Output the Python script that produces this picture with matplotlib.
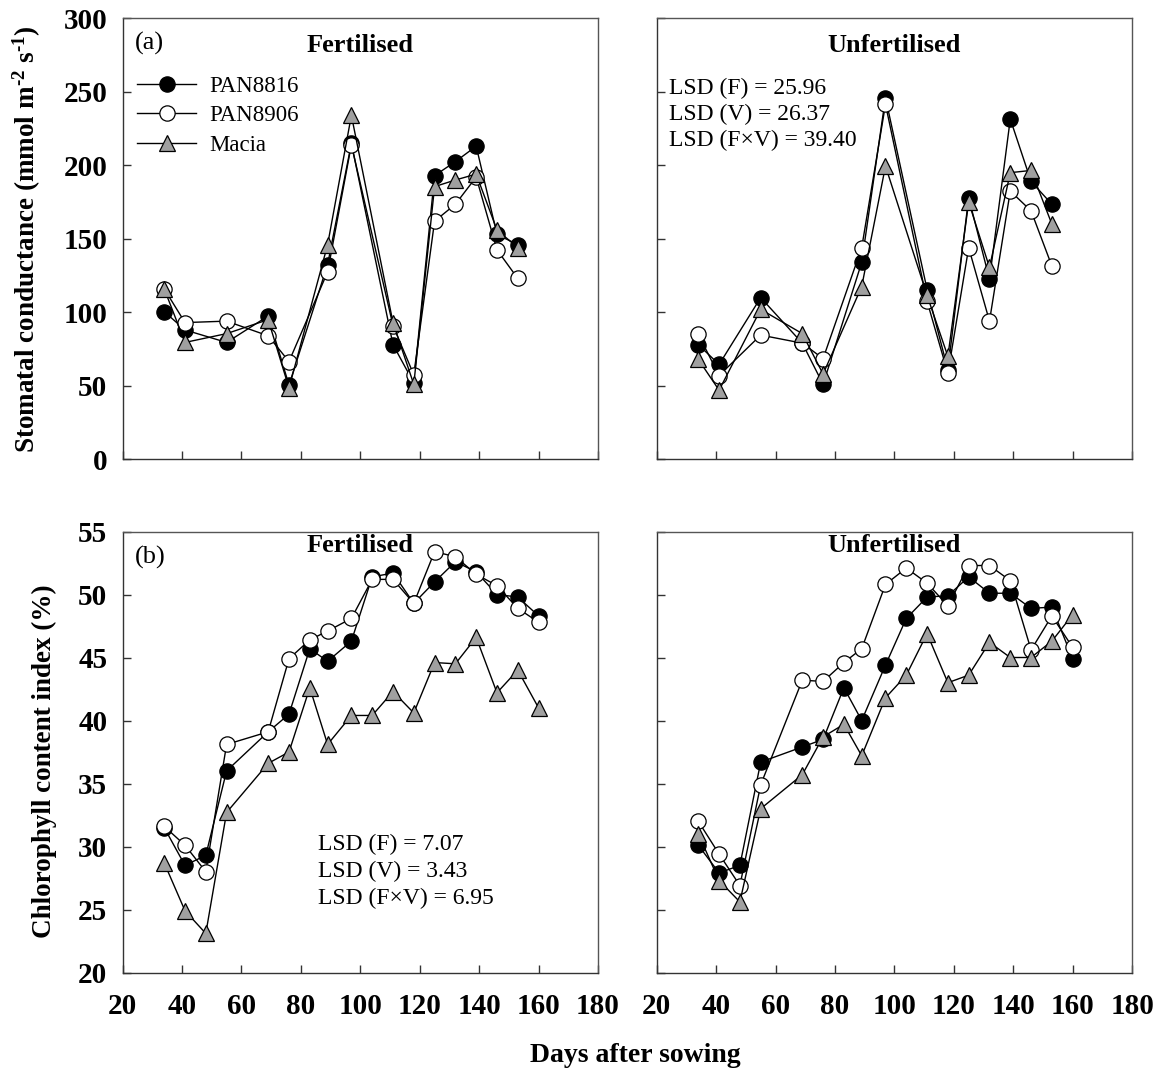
import matplotlib
matplotlib.use('Agg')  # headless
import matplotlib.pyplot as plt

plt.rcParams['font.family'] = ['Liberation Serif', 'DejaVu Serif']
plt.rcParams['mathtext.fontset'] = 'custom'
plt.rcParams['mathtext.rm'] = 'Liberation Serif:bold'
plt.rcParams['mathtext.default'] = 'rm'

# ---------------------------------------------------------------------------
# Data: days after sowing and measured values per cultivar
# ---------------------------------------------------------------------------

days_gs = [34, 41, 55, 69, 76, 89, 97, 111, 118, 125, 132, 139, 146, 153]
days_ccl = [34, 41, 48, 55, 69, 76, 83, 89, 97, 104, 111, 118, 125, 132, 139, 146, 153, 160]

# Stomatal conductance (mmol m-2 s-1)
gs_fert_pan8816 = [100.5, 88, 79.5, 97.5, 50.5, 132.5, 215, 78, 52, 193, 202.5, 213, 153, 146]
gs_fert_pan8906 = [116, 93, 94, 84, 66.5, 127.5, 214, 91, 57.5, 162, 173.5, 192, 142.5, 123]
gs_fert_macia = [116, 79.5, 85.5, 95, 48.5, 146, 234, 93, 51, 185.5, 190, 194, 156, 144]
gs_unf_pan8816 = [78, 64.5, 110, 79, 51, 134, 246, 115.5, 61, 178, 122.5, 231.5, 189, 173.5]
gs_unf_pan8906 = [85, 57, 84.5, 79, 68.5, 144, 241.5, 107.5, 58.5, 144, 94, 182.5, 169, 131.5]
gs_unf_macia = [68, 47, 102, 85.5, 58, 117.5, 199.5, 111.5, 70, 175, 130.5, 195, 196.5, 160]

# Chlorophyll content index (%)
ccl_fert_pan8816 = [31.5, 28.5, 29.3, 36.0, 39.1, 40.5, 45.7, 44.7, 46.3, 51.4, 51.7, 49.3,
                    51.0, 52.6, 51.8, 50.0, 49.8, 48.3]
ccl_fert_pan8906 = [31.6, 30.1, 28.0, 38.1, 39.1, 44.9, 46.4, 47.1, 48.1, 51.2, 51.2, 49.3,
                    53.4, 53.0, 51.6, 50.7, 48.9, 47.8]
ccl_fert_macia = [28.7, 24.9, 23.1, 32.7, 36.6, 37.5, 42.6, 38.1, 40.4, 40.4, 42.3, 40.6,
                  44.6, 44.5, 46.6, 42.2, 44.0, 41.0]
ccl_unf_pan8816 = [30.1, 27.9, 28.5, 36.7, 37.9, 38.5, 42.6, 40.0, 44.4, 48.1, 49.8, 49.9,
                   51.4, 50.1, 50.1, 48.9, 49.0, 44.9]
ccl_unf_pan8906 = [32.0, 29.4, 26.9, 34.9, 43.2, 43.1, 44.6, 45.7, 50.8, 52.1, 50.9, 49.1,
                   52.3, 52.3, 51.1, 45.6, 48.3, 45.8]
ccl_unf_macia = [31.0, 27.3, 25.6, 33.0, 35.7, 38.7, 39.7, 37.2, 41.8, 43.6, 46.9, 43.0,
                 43.6, 46.2, 45.0, 45.0, 46.3, 48.4]

cultivars = ['PAN8816', 'PAN8906', 'Macia']
lsd_gs = ['LSD (F) = 25.96', 'LSD (V) = 26.37', 'LSD (F\u00d7V) = 39.40']
lsd_ccl = ['LSD (F) = 7.07', 'LSD (V) = 3.43', 'LSD (F\u00d7V) = 6.95']

STYLES = [
    dict(marker='o', markerfacecolor='black', markersize=11),
    dict(marker='o', markerfacecolor='white', markersize=11),
    dict(marker='^', markerfacecolor='#a0a0a0', markersize=12),
]
TICK_FS = 21
SPINE = '#333333'


def draw_panel(ax, days, series, ylim, yticks, show_ylabels):
    for vals, name, st in zip(series, cultivars, STYLES):
        ax.plot(days, vals, color='black', linewidth=1.0, markeredgecolor='black',
                markeredgewidth=0.9, label=name, clip_on=False, **st)
    ax.set_xlim(20, 180)
    ax.set_ylim(*ylim)
    ax.set_xticks(range(20, 181, 20))
    ax.set_yticks(yticks)
    for side in ['top', 'right']:
        ax.spines[side].set_color('#555555')
    for side in ['left', 'bottom']:
        ax.spines[side].set_color(SPINE)
    for sp in ax.spines.values():
        sp.set_linewidth(1.0)
    ax.tick_params(direction='in', length=6, width=1.0, color=SPINE,
                   top=False, right=False, labelsize=TICK_FS)
    ax.tick_params(axis='x', pad=15)
    ax.tick_params(axis='y', pad=11)
    for lab in ax.get_xticklabels() + ax.get_yticklabels():
        lab.set_fontweight('bold')
    if not show_ylabels:
        ax.set_yticklabels([])


fig = plt.figure(figsize=(11.61, 10.74), dpi=100)
W, H = 1161, 1074
ax_w, ax_h = 475.4 / W, 441 / H
ax_a1 = fig.add_axes([122.6 / W, 1 - 459.3 / H, ax_w, ax_h])
ax_a2 = fig.add_axes([656.7 / W, 1 - 459.3 / H, ax_w, ax_h])
ax_b1 = fig.add_axes([122.6 / W, 1 - 972.5 / H, ax_w, ax_h])
ax_b2 = fig.add_axes([656.7 / W, 1 - 972.5 / H, ax_w, ax_h])

gs_ticks = range(0, 301, 50)
ccl_ticks = range(20, 56, 5)
draw_panel(ax_a1, days_gs, [gs_fert_pan8816, gs_fert_pan8906, gs_fert_macia],
           (0, 300), gs_ticks, True)
draw_panel(ax_a2, days_gs, [gs_unf_pan8816, gs_unf_pan8906, gs_unf_macia],
           (0, 300), gs_ticks, False)
draw_panel(ax_b1, days_ccl, [ccl_fert_pan8816, ccl_fert_pan8906, ccl_fert_macia],
           (20, 55), ccl_ticks, True)
draw_panel(ax_b2, days_ccl, [ccl_unf_pan8816, ccl_unf_pan8906, ccl_unf_macia],
           (20, 55), ccl_ticks, False)

# top row carries no x tick labels
ax_a1.set_xticklabels([])
ax_a2.set_xticklabels([])

# Panel titles and letters
for ax, title, ty in [(ax_a1, 'Fertilised', 0.939), (ax_a2, 'Unfertilised', 0.939),
                      (ax_b1, 'Fertilised', 0.968), (ax_b2, 'Unfertilised', 0.968)]:
    ax.text(0.5, ty, title, transform=ax.transAxes, ha='center', va='center',
            fontsize=19, fontweight='bold', zorder=1)
ax_a1.text(0.026, 0.943, '(a)', transform=ax_a1.transAxes, ha='left', va='center', fontsize=19)
ax_b1.text(0.026, 0.941, '(b)', transform=ax_b1.transAxes, ha='left', va='center', fontsize=19)

# LSD annotations
for i, s in enumerate(lsd_gs):
    ax_a2.text(0.025, 0.842 - i * 0.060, s, transform=ax_a2.transAxes,
               ha='left', va='center', fontsize=17)
for i, s in enumerate(lsd_ccl):
    ax_b1.text(0.411, 0.290 - i * 0.061, s, transform=ax_b1.transAxes,
               ha='left', va='center', fontsize=17)

ax_a1.legend(loc='upper left', bbox_to_anchor=(0.03, 0.87), frameon=False,
             fontsize=16.5, handlelength=2.6, handletextpad=0.55, labelspacing=0.38,
             borderpad=0, borderaxespad=0)

# Axis labels
ax_a1.set_ylabel(r'Stomatal conductance (mmol m$^{\text{-2}}$ s$^{\text{-1}}$)', fontsize=19.5,
                 fontweight='bold')
ax_a1.yaxis.set_label_coords(-0.168, 0.5)
ax_b1.set_ylabel('Chlorophyll content index (%)', fontsize=19.5, fontweight='bold')
ax_b1.yaxis.set_label_coords(-0.138, 0.48)
fig.text(635 / W, 1 - 1055 / H, 'Days after sowing', ha='center', va='center',
         fontsize=20, fontweight='bold')

fig.savefig('out.png', dpi=100)
